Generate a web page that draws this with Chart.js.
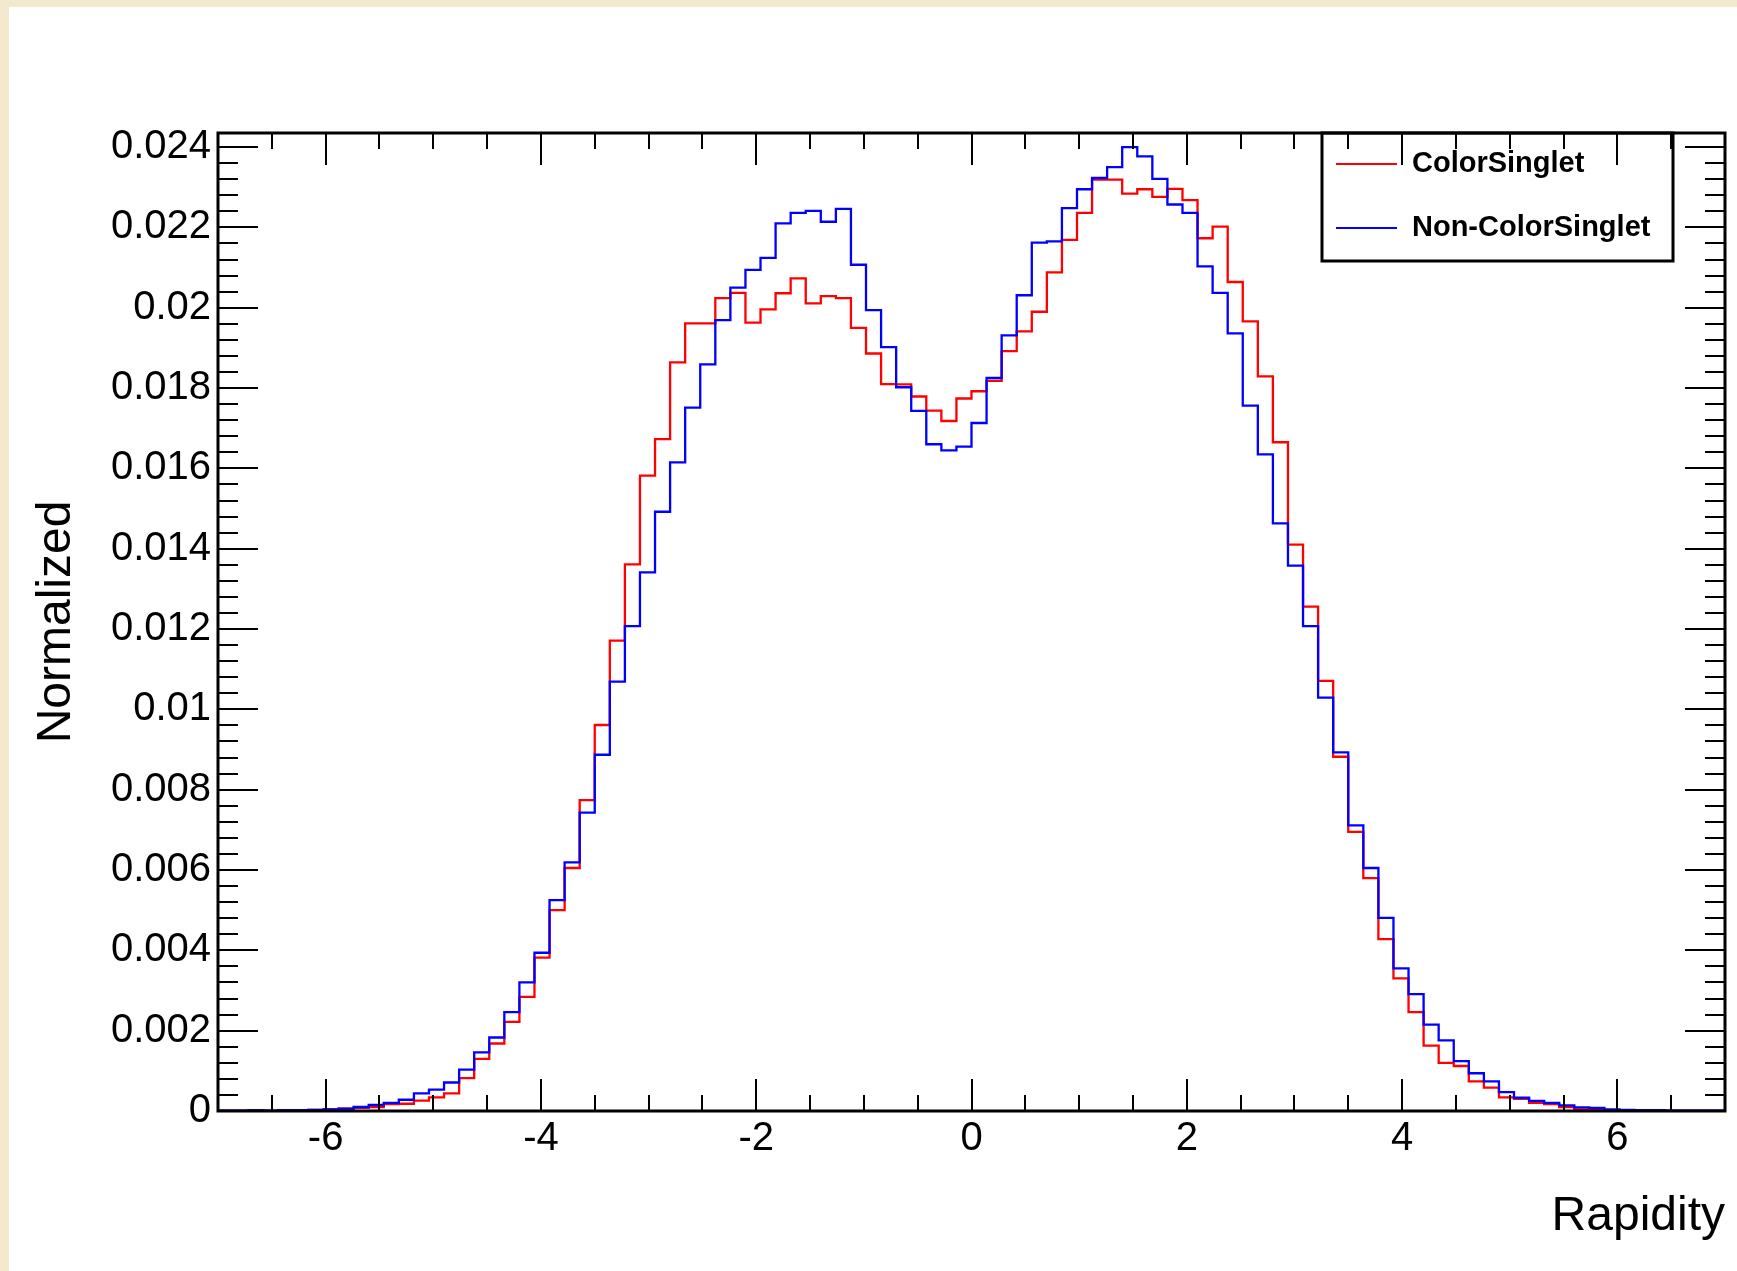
<!DOCTYPE html>
<html>
<head>
<meta charset="utf-8">
<title>Rapidity</title>
<script src="https://cdn.jsdelivr.net/npm/chart.js@4.4.1/dist/chart.umd.min.js"></script>
<style>
  html, body { margin: 0; padding: 0; background: #f3e9cf; }
  canvas { display: block; }
</style>
</head>
<body>
<canvas id="rapChart" width="1737" height="1271"></canvas>
<script>
// binning of the histograms: 100 bins from -7 to 7
const xMin = -7;
const xMax = 7;
const binWidth = 0.14;

// normalized counts per bin
const colorSinglet = [
  0.00001, 0.00001, 0.00001, 0.00001, 0.00002, 0.00002, 0.00003, 0.00004, 0.00006, 0.00008,
  0.00010, 0.00017, 0.00018, 0.00026, 0.00034, 0.00044, 0.00082, 0.00130, 0.00168, 0.00222,
  0.00284, 0.00382, 0.00500, 0.00605, 0.00774, 0.00961, 0.01171, 0.01361, 0.01582, 0.01673,
  0.01864, 0.01961, 0.01961, 0.02024, 0.02037, 0.01963, 0.01996, 0.02036, 0.02073, 0.02011,
  0.02029, 0.02024, 0.01950, 0.01886, 0.01810, 0.01809, 0.01779, 0.01744, 0.01718, 0.01774,
  0.01792, 0.01818, 0.01892, 0.01941, 0.01990, 0.02088, 0.02169, 0.02236, 0.02319, 0.02319,
  0.02284, 0.02295, 0.02276, 0.02296, 0.02268, 0.02173, 0.02202, 0.02064, 0.01966, 0.01829,
  0.01665, 0.01410, 0.01256, 0.01071, 0.00882, 0.00695, 0.00580, 0.00428, 0.00330, 0.00246,
  0.00163, 0.00120, 0.00112, 0.00074, 0.00058, 0.00034, 0.00030, 0.00020, 0.00017, 0.00010,
  0.00004, 0.00003, 0.00002, 0.00002, 0.00001, 0.00002, 0.00001, 0.00001, 0.00001, 0.00001
];
const nonColorSinglet = [
  0.00001, 0.00001, 0.00002, 0.00001, 0.00002, 0.00002, 0.00003, 0.00004, 0.00006, 0.00010,
  0.00015, 0.00020, 0.00028, 0.00044, 0.00053, 0.00071, 0.00103, 0.00146, 0.00183, 0.00246,
  0.00320, 0.00394, 0.00525, 0.00619, 0.00743, 0.00887, 0.01069, 0.01207, 0.01341, 0.01492,
  0.01615, 0.01751, 0.01859, 0.01969, 0.02050, 0.02094, 0.02124, 0.02210, 0.02236, 0.02241,
  0.02214, 0.02246, 0.02107, 0.01994, 0.01902, 0.01802, 0.01743, 0.01660, 0.01645, 0.01654,
  0.01713, 0.01825, 0.01931, 0.02031, 0.02162, 0.02165, 0.02248, 0.02295, 0.02323, 0.02350,
  0.02400, 0.02377, 0.02321, 0.02257, 0.02236, 0.02103, 0.02037, 0.01936, 0.01756, 0.01635,
  0.01463, 0.01358, 0.01207, 0.01029, 0.00893, 0.00711, 0.00605, 0.00481, 0.00355, 0.00291,
  0.00215, 0.00176, 0.00124, 0.00094, 0.00074, 0.00047, 0.00033, 0.00025, 0.00020, 0.00014,
  0.00009, 0.00008, 0.00004, 0.00003, 0.00002, 0.00002, 0.00001, 0.00001, 0.00001, 0.00001
];

const xTickLabels = [-6, -4, -2, 0, 2, 4, 6];
const yTickLabels = [0, 0.002, 0.004, 0.006, 0.008, 0.01, 0.012, 0.014, 0.016, 0.018, 0.02, 0.022, 0.024];
const yMax = 0.02435;

const FONT = "'Liberation Sans', Arial, Helvetica, sans-serif";

// histogram -> points on the low edge of each bin, plus the closing edge
function toSteps(values) {
  const pts = values.map((v, i) => ({ x: +(xMin + i * binWidth).toFixed(2), y: v }));
  pts.push({ x: xMax, y: values[values.length - 1] });
  return pts;
}

// ROOT-like canvas: beige border, frame, ticks on all four sides, legend box
const rootStyle = {
  id: 'rootStyle',
  beforeDraw(chart) {
    const ctx = chart.ctx;
    ctx.save();
    ctx.fillStyle = '#f3e9cf';
    ctx.fillRect(0, 0, chart.width, chart.height);
    ctx.fillStyle = '#ffffff';
    ctx.fillRect(9, 7, chart.width - 9, chart.height - 7);
    ctx.restore();
  },
  afterDatasetsDraw(chart) {
    const ctx = chart.ctx;
    const { left, right, top, bottom } = chart.chartArea;
    const xs = chart.scales.x, ys = chart.scales.y;

    // legend
    ctx.save();
    ctx.fillStyle = '#fff';
    ctx.fillRect(1322, top, 351, 128);
    ctx.lineWidth = 3;
    ctx.strokeStyle = '#000';
    ctx.strokeRect(1322, top, 351, 128);
    ctx.font = 'bold 29px ' + FONT;
    ctx.textBaseline = 'middle';
    ctx.textAlign = 'left';
    const rows = [164, 228];
    chart.data.datasets.forEach((ds, i) => {
      ctx.strokeStyle = ds.borderColor;
      ctx.lineWidth = 2;
      ctx.beginPath();
      ctx.moveTo(1336, rows[i]);
      ctx.lineTo(1397, rows[i]);
      ctx.stroke();
      ctx.fillStyle = '#000';
      ctx.fillText(ds.label, 1412, rows[i]);
    });
    ctx.restore();

    // ticks
    ctx.save();
    ctx.strokeStyle = '#000';
    ctx.lineWidth = 2;
    ctx.beginPath();
    for (let k = -13; k <= 13; k++) {
      const px = Math.round(xs.getPixelForValue(k * 0.5));
      const len = k % 4 === 0 ? 32 : 16;
      ctx.moveTo(px, bottom); ctx.lineTo(px, bottom - len);
      ctx.moveTo(px, top); ctx.lineTo(px, top + len);
    }
    for (let k = 1; k <= 60; k++) {
      const py = Math.round(ys.getPixelForValue(k * 0.0004));
      const len = k % 5 === 0 ? 40 : 20;
      ctx.moveTo(left, py); ctx.lineTo(left + len, py);
      ctx.moveTo(right, py); ctx.lineTo(right - len, py);
    }
    ctx.stroke();
    ctx.lineWidth = 3;
    ctx.strokeRect(left, top, right - left, bottom - top);
    ctx.restore();
  }
};

new Chart(document.getElementById('rapChart'), {
  type: 'line',
  data: {
    datasets: [
      {
        label: 'ColorSinglet',
        data: toSteps(colorSinglet),
        borderColor: '#ff0000',
        borderWidth: 2.3,
        stepped: 'before',
        pointRadius: 0,
        fill: false,
        order: 2
      },
      {
        label: 'Non-ColorSinglet',
        data: toSteps(nonColorSinglet),
        borderColor: '#0000ff',
        borderWidth: 2.3,
        stepped: 'before',
        pointRadius: 0,
        fill: false,
        order: 1
      }
    ]
  },
  options: {
    responsive: false,
    animation: false,
    devicePixelRatio: 1,
    layout: { padding: { left: 0, top: 133, right: 12, bottom: 0 } },
    plugins: {
      legend: { display: false },
      tooltip: { enabled: false }
    },
    scales: {
      x: {
        type: 'linear',
        min: xMin,
        max: xMax,
        afterBuildTicks: s => { s.ticks = xTickLabels.map(v => ({ value: v })); },
        afterFit: s => { s.height = 160; },
        grid: { display: false, drawTicks: false },
        border: { display: false },
        ticks: {
          font: { family: FONT, size: 40 },
          color: '#000',
          padding: 4,
          maxRotation: 0,
          autoSkip: false,
          callback: v => String(v)
        },
        title: {
          display: true,
          text: 'Rapidity',
          align: 'end',
          color: '#000',
          font: { family: FONT, size: 48 },
          padding: { top: 0, bottom: 25 }
        }
      },
      y: {
        min: 0,
        max: yMax,
        afterBuildTicks: s => { s.ticks = yTickLabels.map(v => ({ value: v })); },
        afterFit: s => { s.width = 218; },
        grid: { display: false, drawTicks: false },
        border: { display: false },
        ticks: {
          font: { family: FONT, size: 40 },
          color: '#000',
          padding: 7,
          autoSkip: false,
          callback: v => String(+v.toFixed(3))
        },
        title: {
          display: true,
          text: 'Normalized',
          color: '#000',
          font: { family: FONT, size: 48 },
          padding: { top: 28, bottom: 0 }
        }
      }
    }
  },
  plugins: [rootStyle]
});
</script>
</body>
</html>
